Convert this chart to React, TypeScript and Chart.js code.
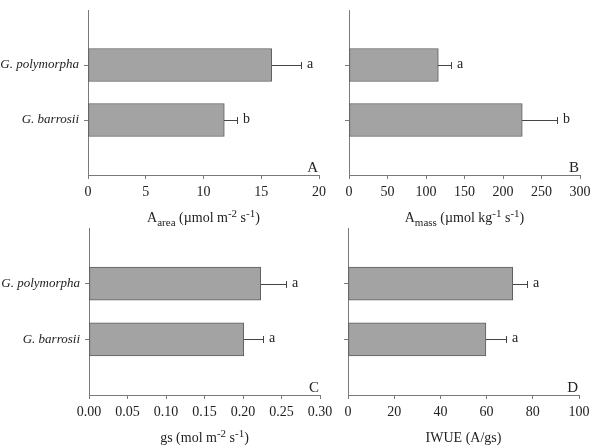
import React, { useEffect, useRef } from "react";
import Chart from "chart.js/auto";

const categories = ["G. polymorpha", "G. barrosii"];

const aAreaMeans = [15.9, 11.8];
const aAreaErrors = [2.5, 1.1];
const aAreaLetters = ["a", "b"];

const aMassMeans = [116, 225];
const aMassErrors = [16, 45];
const aMassLetters = ["a", "b"];

const gsMeans = [0.223, 0.201];
const gsErrors = [0.033, 0.025];
const gsLetters = ["a", "a"];

const iwueMeans = [71.3, 59.7];
const iwueErrors = [6.0, 8.6];
const iwueLetters = ["a", "a"];

const FONT = "'Liberation Serif', 'Times New Roman', serif";
const AXIS = "#7a7a7a";
const TEXT = "#222";

type Seg = { t: string; k?: "sub" | "sup" };

const titleA: Seg[] = [
  { t: "A" }, { t: "area", k: "sub" }, { t: " (µmol m" }, { t: "-2", k: "sup" }, { t: " s" }, { t: "-1", k: "sup" }, { t: ")" },
];
const titleB: Seg[] = [
  { t: "A" }, { t: "mass", k: "sub" }, { t: " (µmol kg" }, { t: "-1", k: "sup" }, { t: " s" }, { t: "-1", k: "sup" }, { t: ")" },
];
const titleC: Seg[] = [
  { t: "gs (mol m" }, { t: "-2", k: "sup" }, { t: " s" }, { t: "-1", k: "sup" }, { t: ")" },
];
const titleD: Seg[] = [{ t: "IWUE (A/gs)" }];

const errorBarPlugin = {
  id: "errorBars",
  afterDatasetsDraw(chart: any, _args: any, opts: any) {
    const { ctx } = chart;
    const meta = chart.getDatasetMeta(0);
    const xs = chart.scales.x;
    const ds = chart.data.datasets[0].data;
    ctx.save();
    ctx.strokeStyle = "#444";
    ctx.lineWidth = 1;
    meta.data.forEach((el: any, i: number) => {
      const v = ds[i];
      if (v == null) return;
      const e = opts.errors[i - 1];
      const x0 = Math.round(xs.getPixelForValue(v));
      const x1 = Math.round(xs.getPixelForValue(v + e));
      const y = Math.round(el.y) + 0.5;
      ctx.beginPath();
      ctx.moveTo(x0, y);
      ctx.lineTo(x1, y);
      ctx.moveTo(x1 + 0.5, y - 3.5);
      ctx.lineTo(x1 + 0.5, y + 3.5);
      ctx.stroke();
      ctx.fillStyle = TEXT;
      ctx.font = `14px ${FONT}`;
      ctx.textBaseline = "middle";
      ctx.textAlign = "left";
      ctx.fillText(opts.letters[i - 1], x1 + 6, y - 1);
    });
    const ca = chart.chartArea;
    ctx.font = `15px ${FONT}`;
    ctx.textAlign = "right";
    ctx.textBaseline = "alphabetic";
    ctx.fillStyle = TEXT;
    ctx.fillText(opts.panel, ca.right - 1, ca.bottom - 3);
    const segs: Seg[] = opts.title;
    const main = 14, small = 11;
    let total = 0;
    segs.forEach((s) => {
      ctx.font = `${s.k ? small : main}px ${FONT}`;
      total += ctx.measureText(s.t).width;
    });
    let x = (ca.left + ca.right) / 2 - total / 2;
    const base = ca.bottom + 47;
    ctx.textAlign = "left";
    segs.forEach((s) => {
      ctx.font = `${s.k ? small : main}px ${FONT}`;
      const dy = s.k === "sub" ? 4 : s.k === "sup" ? -5 : 0;
      ctx.fillText(s.t, x, base + dy);
      x += ctx.measureText(s.t).width;
    });
    ctx.restore();
  },
};

type PanelProps = {
  left: number; top: number; w: number; h: number; xH: number;
  yW: number; padTop: number; padRight: number;
  means: number[]; errors: number[]; letters: string[];
  max: number; step: number; decimals: number;
  showLabels: boolean; panel: string; title: Seg[];
};

function Panel(p: PanelProps) {
  const ref = useRef<HTMLCanvasElement>(null);
  useEffect(() => {
    const labels = ["", ...categories, ""];
    const chart = new Chart(ref.current!, {
      type: "bar",
      data: {
        labels,
        datasets: [
          {
            data: [null, ...p.means, null] as any,
            backgroundColor: "#a3a3a3",
            borderColor: "#5e5e5e",
            borderWidth: 1,
            borderSkipped: false,
            barThickness: 33,
          },
        ],
      },
      options: {
        indexAxis: "y",
        responsive: false,
        animation: false,
        devicePixelRatio: 1,
        layout: { padding: { top: p.padTop, right: p.padRight, left: 0, bottom: 0 } },
        plugins: {
          legend: { display: false },
          tooltip: { enabled: false },
          errorBars: { errors: p.errors, letters: p.letters, panel: p.panel, title: p.title },
        } as any,
        scales: {
          y: {
            type: "category",
            offset: false,
            afterBuildTicks: (s: any) => {
              s.ticks = s.ticks.filter((t: any) => t.value === 1 || t.value === 2);
            },
            afterFit: (s: any) => {
              s.width = p.yW;
              s.paddingTop = 0;
              s.paddingBottom = 0;
            },
            grid: { display: true, offset: false, drawOnChartArea: false, drawTicks: true, tickLength: 4, color: AXIS },
            border: { display: true, color: AXIS, width: 1 },
            ticks: {
              padding: 5,
              color: TEXT,
              font: { family: FONT, size: 13, style: "italic" },
              callback: function (this: any, v: any) {
                return p.showLabels ? this.getLabelForValue(v) : "";
              },
            },
          },
          x: {
            type: "linear",
            min: 0,
            max: p.max,
            afterFit: (s: any) => {
              s.height = p.xH;
              s.paddingLeft = 0;
              s.paddingRight = 0;
            },
            grid: { display: true, drawOnChartArea: false, drawTicks: true, tickLength: 4, color: AXIS },
            border: { display: true, color: AXIS, width: 1 },
            ticks: {
              stepSize: p.step,
              padding: 5,
              color: TEXT,
              maxRotation: 0,
              font: { family: FONT, size: 14 },
              callback: (v: any) => Number(v).toFixed(p.decimals),
            },
          },
        },
      } as any,
      plugins: [errorBarPlugin],
    });
    return () => chart.destroy();
  }, []);
  return (
    <canvas
      ref={ref}
      width={p.w}
      height={p.h}
      style={{ position: "absolute", left: p.left, top: p.top, width: p.w, height: p.h }}
    />
  );
}

export default function App() {
  return (
    <div style={{ position: "absolute", left: 0, top: 0, width: 594, height: 445, background: "#fff" }}>
      <Panel left={0} top={0} w={340} h={232} xH={57} yW={88} padTop={10} padRight={21}
        means={aAreaMeans} errors={aAreaErrors} letters={aAreaLetters}
        max={20} step={5} decimals={0} showLabels={true} panel="A" title={titleA} />
      <Panel left={330} top={0} w={264} h={232} xH={57} yW={19} padTop={10} padRight={14}
        means={aMassMeans} errors={aMassErrors} letters={aMassLetters}
        max={300} step={50} decimals={0} showLabels={false} panel="B" title={titleB} />
      <Panel left={0} top={225} w={342} h={220} xH={50} yW={89} padTop={3} padRight={22}
        means={gsMeans} errors={gsErrors} letters={gsLetters}
        max={0.3} step={0.05} decimals={2} showLabels={true} panel="C" title={titleC} />
      <Panel left={330} top={225} w={264} h={220} xH={50} yW={18} padTop={3} padRight={15}
        means={iwueMeans} errors={iwueErrors} letters={iwueLetters}
        max={100} step={20} decimals={0} showLabels={false} panel="D" title={titleD} />
    </div>
  );
}
